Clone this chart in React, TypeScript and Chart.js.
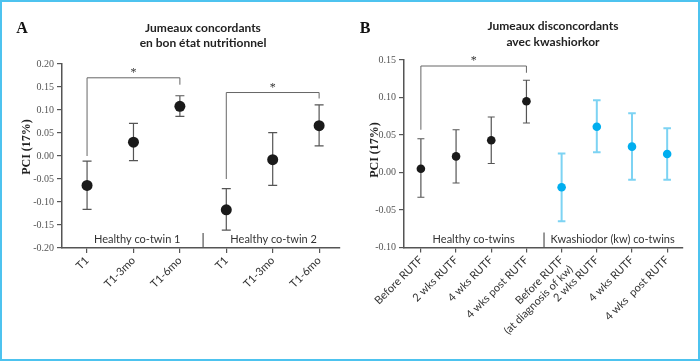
import React, { useEffect, useRef } from "react";
import { Chart, registerables } from "chart.js";
Chart.register(...registerables);

// ---------- Panel A data ----------
const catsA = ["T1", "T1-3mo", "T1-6mo", "T1", "T1-3mo", "T1-6mo"];
const idxA1 = [0, 1, 2];
const meanA1 = [-0.064, 0.03, 0.108];
const lowA1 = [-0.116, -0.01, 0.086];
const highA1 = [-0.011, 0.071, 0.131];
const idxA2 = [3, 4, 5];
const meanA2 = [-0.117, -0.008, 0.066];
const lowA2 = [-0.161, -0.064, 0.022];
const highA2 = [-0.071, 0.051, 0.111];
const groupsA = ["Healthy co-twin 1", "Healthy co-twin 2"];
const yTicksA = [-0.2, -0.15, -0.1, -0.05, 0, 0.05, 0.1, 0.15, 0.2];
const titleA = ["Jumeaux concordants", "en bon état nutritionnel"];
// bracket: [xStart, xEnd, yTop, yLeftEnd, yRightEnd]
const bracketsA = [
  [0, 2, 0.17, 0.0, 0.155],
  [3, 5, 0.138, -0.05, 0.125],
];

// ---------- Panel B data ----------
const catsB: (string | string[])[] = [
  "Before RUTF",
  "2 wks RUTF",
  "4 wks RUTF",
  "4 wks post RUTF",
  ["Before RUTF", "(at diagnosis of kw)"],
  "2 wks RUTF",
  "4 wks RUTF",
  "4 wks  post RUTF",
];
const idxB1 = [0, 1, 2, 3];
const meanB1 = [0.005, 0.0215, 0.043, 0.095];
const lowB1 = [-0.033, -0.014, 0.012, 0.066];
const highB1 = [0.045, 0.057, 0.074, 0.123];
const idxB2 = [4, 5, 6, 7];
const meanB2 = [-0.0196, 0.061, 0.0345, 0.0247];
const lowB2 = [-0.065, 0.027, -0.0098, -0.0098];
const highB2 = [0.0255, 0.0965, 0.079, 0.059];
const groupsB = ["Healthy co-twins", "Kwashiodor (kw) co-twins"];
const yTicksB = [-0.1, -0.05, 0, 0.05, 0.1, 0.15];
const titleB = ["Jumeaux disconcordants", "avec kwashiorkor"];
const bracketsB = [[0, 3, 0.142, 0.057, 0.133]];

const AXIS = "#555";
const SANS = "Lato, 'Open Sans', sans-serif";
const SERIF = "'Liberation Serif', 'DejaVu Serif', serif";

type Series = {
  idx: number[];
  mean: number[];
  low: number[];
  high: number[];
  dot: string;
  bar: string;
  barWidth: number;
  cap: number;
  radius: number;
};

type PanelCfg = {
  cats: (string | string[])[];
  series: Series[];
  yTicks: number[];
  yMin: number;
  yMax: number;
  xMin: number;
  xMax: number;
  padTop: number;
  padRight: number;
  yAxisWidth: number;
  xAxisHeight: number;
  groups: string[];
  groupCenters: number[];
  divider: number;
  brackets: number[][];
  title: string[];
  titleX: number;
  titleY: number[];
  letter: string;
  letterX: number;
  letterY: number;
  yTitleX: number;
  yTitleY: number;
};

function makePlugin(cfg: PanelCfg) {
  return {
    id: "panelDeco",
    beforeDatasetsDraw(chart: any) {
      const { ctx } = chart;
      const x = chart.scales.x;
      const y = chart.scales.y;
      ctx.save();
      cfg.series.forEach((s) => {
        ctx.strokeStyle = s.bar;
        ctx.lineWidth = s.barWidth;
        s.idx.forEach((ci, k) => {
          const px = x.getPixelForValue(ci);
          const yl = y.getPixelForValue(s.low[k]);
          const yh = y.getPixelForValue(s.high[k]);
          ctx.beginPath();
          ctx.moveTo(px, yl);
          ctx.lineTo(px, yh);
          ctx.moveTo(px - s.cap, yl);
          ctx.lineTo(px + s.cap, yl);
          ctx.moveTo(px - s.cap, yh);
          ctx.lineTo(px + s.cap, yh);
          ctx.stroke();
        });
      });
      ctx.restore();
    },
    afterDraw(chart: any) {
      const { ctx, chartArea } = chart;
      const x = chart.scales.x;
      const y = chart.scales.y;
      ctx.save();
      // brackets + stars
      ctx.strokeStyle = "#666";
      ctx.lineWidth = 1;
      cfg.brackets.forEach((b) => {
        const x1 = x.getPixelForValue(b[0]);
        const x2 = x.getPixelForValue(b[1]);
        const yt = y.getPixelForValue(b[2]);
        ctx.beginPath();
        ctx.moveTo(x1, y.getPixelForValue(b[3]));
        ctx.lineTo(x1, yt);
        ctx.lineTo(x2, yt);
        ctx.lineTo(x2, y.getPixelForValue(b[4]));
        ctx.stroke();
        ctx.fillStyle = "#333";
        ctx.font = `12px ${SERIF}`;
        ctx.textAlign = "center";
        ctx.textBaseline = "alphabetic";
        ctx.fillText("*", (x1 + x2) / 2, yt - 2);
      });
      // divider
      const dx = x.getPixelForValue(cfg.divider);
      ctx.strokeStyle = AXIS;
      ctx.lineWidth = 1.2;
      ctx.beginPath();
      ctx.moveTo(dx, chartArea.bottom - 15);
      ctx.lineTo(dx, chartArea.bottom);
      ctx.stroke();
      // group labels
      ctx.fillStyle = "#333";
      ctx.font = `11px ${SANS}`;
      ctx.textAlign = "center";
      ctx.textBaseline = "alphabetic";
      cfg.groups.forEach((g, i) => {
        ctx.fillText(g, x.getPixelForValue(cfg.groupCenters[i]), chartArea.bottom - 5);
      });
      // title
      ctx.fillStyle = "#222";
      ctx.font = `bold 12px ${SANS}`;
      ctx.textBaseline = "middle";
      cfg.title.forEach((t, i) => ctx.fillText(t, cfg.titleX, cfg.titleY[i]));
      // letter
      ctx.font = `bold 16px ${SERIF}`;
      ctx.fillStyle = "#111";
      ctx.fillText(cfg.letter, cfg.letterX, cfg.letterY);
      // y title
      ctx.translate(cfg.yTitleX, cfg.yTitleY);
      ctx.rotate(-Math.PI / 2);
      ctx.font = `bold 12px ${SERIF}`;
      ctx.fillStyle = "#222";
      ctx.fillText("PCI (17%)", 0, 0);
      ctx.restore();
    },
  };
}

function buildChart(canvas: HTMLCanvasElement, cfg: PanelCfg) {
  return new Chart(canvas, {
    type: "scatter",
    data: {
      datasets: cfg.series.map((s) => ({
        data: s.idx.map((ci, k) => ({ x: ci, y: s.mean[k] })),
        pointRadius: s.radius,
        pointHoverRadius: s.radius,
        backgroundColor: s.dot,
        borderColor: s.dot,
        borderWidth: 0,
      })),
    },
    options: {
      animation: false,
      responsive: false,
      maintainAspectRatio: false,
      events: [],
      layout: { padding: { left: 0, right: cfg.padRight, top: cfg.padTop, bottom: 0 } },
      plugins: { legend: { display: false }, tooltip: { enabled: false }, title: { display: false } },
      scales: {
        x: {
          type: "linear",
          min: cfg.xMin,
          max: cfg.xMax,
          afterBuildTicks: (s: any) => {
            s.ticks = cfg.cats.map((_, i) => ({ value: i }));
          },
          afterFit: (s: any) => {
            s.height = cfg.xAxisHeight;
          },
          ticks: {
            callback: (v: any) => cfg.cats[v as number] as any,
            minRotation: 45,
            maxRotation: 45,
            autoSkip: false,
            padding: 1,
            color: "#333",
            font: { family: SANS, size: 11 },
          },
          grid: { drawOnChartArea: false, tickLength: 5, color: AXIS, lineWidth: 1.2 },
          border: { color: AXIS, width: 1.5 },
        },
        y: {
          min: cfg.yMin,
          max: cfg.yMax,
          afterBuildTicks: (s: any) => {
            s.ticks = cfg.yTicks.map((v) => ({ value: v }));
          },
          afterFit: (s: any) => {
            s.width = cfg.yAxisWidth;
          },
          ticks: {
            callback: (v: any) => (v as number).toFixed(2),
            padding: 3,
            color: "#555",
            font: { family: SERIF, size: 10 },
          },
          grid: { drawOnChartArea: false, tickLength: 5, color: AXIS, lineWidth: 1.2 },
          border: { color: AXIS, width: 1.5 },
        },
      },
    },
    plugins: [makePlugin(cfg) as any],
  });
}

const cfgA: PanelCfg = {
  cats: catsA,
  series: [
    { idx: idxA1, mean: meanA1, low: lowA1, high: highA1, dot: "#1a1a1a", bar: "#555", barWidth: 1.2, cap: 4.5, radius: 5.5 },
    { idx: idxA2, mean: meanA2, low: lowA2, high: highA2, dot: "#1a1a1a", bar: "#555", barWidth: 1.2, cap: 4.5, radius: 5.5 },
  ],
  yTicks: yTicksA,
  yMin: -0.2,
  yMax: 0.2,
  xMin: -0.54,
  xMax: 5.45,
  padTop: 64,
  padRight: 10,
  yAxisWidth: 62,
  xAxisHeight: 113,
  groups: groupsA,
  groupCenters: [1.08, 4.02],
  divider: 2.5,
  brackets: bracketsA,
  title: titleA,
  titleX: 203,
  titleY: [28, 43],
  letter: "A",
  letterX: 22,
  letterY: 29,
  yTitleX: 27,
  yTitleY: 147,
};

const cfgB: PanelCfg = {
  cats: catsB,
  series: [
    { idx: idxB1, mean: meanB1, low: lowB1, high: highB1, dot: "#1a1a1a", bar: "#555", barWidth: 1.2, cap: 3.5, radius: 4.3 },
    { idx: idxB2, mean: meanB2, low: lowB2, high: highB2, dot: "#00aeef", bar: "#7dd3f3", barWidth: 2, cap: 3.8, radius: 4.3 },
  ],
  yTicks: yTicksB,
  yMin: -0.1,
  yMax: 0.15,
  xMin: -0.48,
  xMax: 7.45,
  padTop: 60,
  padRight: 17,
  yAxisWidth: 54,
  xAxisHeight: 113.5,
  groups: groupsB,
  groupCenters: [1.5, 5.45],
  divider: 3.5,
  brackets: bracketsB,
  title: titleB,
  titleX: 203,
  titleY: [26, 42],
  letter: "B",
  letterX: 15,
  letterY: 29,
  yTitleX: 24.5,
  yTitleY: 150,
};

export default function App() {
  const refA = useRef<HTMLCanvasElement>(null);
  const refB = useRef<HTMLCanvasElement>(null);
  useEffect(() => {
    const a = buildChart(refA.current!, cfgA);
    const b = buildChart(refB.current!, cfgB);
    return () => {
      a.destroy();
      b.destroy();
    };
  }, []);
  return (
    <div style={{ position: "fixed", left: 0, top: 0, width: 700, height: 361, background: "#fff" }}>
      <canvas ref={refA} width={350} height={361} style={{ position: "absolute", left: 0, top: 0, width: 350, height: 361 }} />
      <canvas ref={refB} width={350} height={361} style={{ position: "absolute", left: 350, top: 0, width: 350, height: 361 }} />
      <div
        style={{
          position: "absolute",
          left: 0,
          top: 0,
          width: 700,
          height: 361,
          boxSizing: "border-box",
          border: "2px solid #4dc3ef",
          pointerEvents: "none",
        }}
      />
    </div>
  );
}
